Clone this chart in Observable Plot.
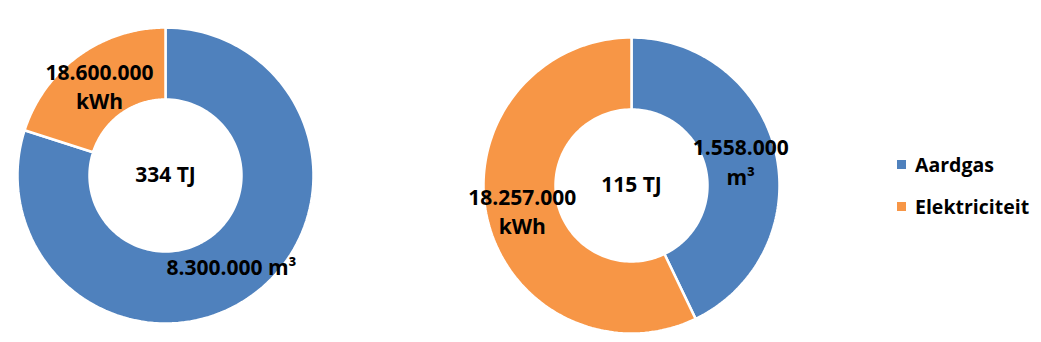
<!DOCTYPE html>
<html>
<head>
<meta charset="utf-8">
<script src="https://cdn.jsdelivr.net/npm/d3@7"></script>
<script src="https://cdn.jsdelivr.net/npm/@observablehq/plot@0.6"></script>
<style>
  html, body { margin: 0; padding: 0; background: #fff; }
  #wrap { position: relative; width: 1041px; height: 342px; font-family: "Open Sans", sans-serif; }
  #legend { position: absolute; left: 897px; top: 150px; font-weight: bold; font-size: 19.5px; color: #000; }
  .item { display: flex; align-items: center; height: 28px; margin-bottom: 14px; }
  .sw { width: 9px; height: 9px; margin-right: 9px; }
</style>
</head>
<body>
<div id="wrap"></div>
<script>
// ---- data ----
const categories = ["Aardgas", "Elektriciteit"];
const colors = ["#4F81BD", "#F79646"];
const totals = ["334 TJ", "115 TJ"];
const leftValuesTJ = [267, 67];
const rightValuesTJ = [49.3, 65.7];
const leftLabels = ["8.300.000 m³", "18.600.000\nkWh"];
const rightLabels = ["1.558.000\nm³", "18.257.000\nkWh"];

// ---- layout ----
const W = 1041, H = 342;
const donuts = [
  {cx: 165, cy: 175, values: leftValuesTJ, labels: leftLabels, total: totals[0]},
  {cx: 631, cy: 185, values: rightValuesTJ, labels: rightLabels, total: totals[1]}
];
const R = 148, r0 = 76;

const slicePts = [];
const labelRows = [];
const centerRows = [];
donuts.forEach((d, di) => {
  const arcs = d3.pie().sort(null)(d.values);
  arcs.forEach((a, i) => {
    const key = di + "-" + i;
    const n = 120;
    const pt = (ang, rad) => ({key, cat: categories[i], x: d.cx + rad * Math.sin(ang), y: d.cy - rad * Math.cos(ang)});
    for (let k = 0; k <= n; k++) slicePts.push(pt(a.startAngle + (a.endAngle - a.startAngle) * k / n, R));
    for (let k = n; k >= 0; k--) slicePts.push(pt(a.startAngle + (a.endAngle - a.startAngle) * k / n, r0));
    const mid = (a.startAngle + a.endAngle) / 2, rm = (R + r0) / 2;
    labelRows.push({x: d.cx + rm * Math.sin(mid), y: d.cy - rm * Math.cos(mid), text: d.labels[i]});
  });
  centerRows.push({x: d.cx, y: d.cy, text: d.total});
});

const chart = Plot.plot({
  width: W, height: H,
  margin: 0,
  x: {domain: [0, W], range: [0, W], axis: null},
  y: {domain: [0, H], range: [0, H], axis: null},
  color: {domain: categories, range: colors},
  style: {fontFamily: "Open Sans, sans-serif", background: "#fff"},
  marks: [
    Plot.line(slicePts, {x: "x", y: "y", z: "key", fill: "cat", stroke: "#fff", strokeWidth: 2.5, curve: "linear-closed"}),
    Plot.text(labelRows, {x: "x", y: "y", text: "text", fontSize: 21, fontWeight: "bold", fill: "#000", lineHeight: 1.4, lineAnchor: "middle"}),
    Plot.text(centerRows, {x: "x", y: "y", text: "text", fontSize: 21, fontWeight: "bold", fill: "#000", lineAnchor: "middle"})
  ]
});
const wrap = document.getElementById("wrap");
wrap.appendChild(chart);

const legend = document.createElement("div");
legend.id = "legend";
categories.forEach((c, i) => {
  const it = document.createElement("div");
  it.className = "item";
  const sw = document.createElement("span");
  sw.className = "sw";
  sw.style.background = colors[i];
  const tx = document.createElement("span");
  tx.textContent = c;
  it.appendChild(sw); it.appendChild(tx);
  legend.appendChild(it);
});
wrap.appendChild(legend);
</script>
</body>
</html>
